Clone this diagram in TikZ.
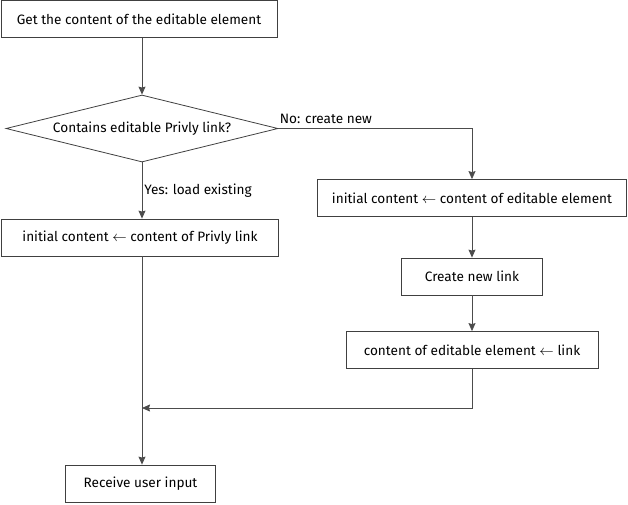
\documentclass[tikz,border=0pt]{standalone}
\usepackage{fontspec}
\setmainfont{Fira Sans}
\usetikzlibrary{shapes.geometric,calc,arrows,arrows.meta}

\begin{document}
\begin{tikzpicture}[x=1pt,y=-1pt, >={Stealth[length=8pt,width=7pt,inset=1pt]},
    every node/.style={font=\fontsize{13.6}{16}\selectfont},
    box/.style={rectangle, draw=black!75, line width=0.8pt, minimum height=37pt, inner sep=0pt},
    choice/.style={diamond, aspect=4.06, draw=black!75, line width=0.8pt, inner sep=0pt, minimum width=272pt, minimum height=67pt},
    line/.style={draw=black!70, line width=0.8pt, ->}]
  \useasboundingbox (0,0) rectangle (628,504);

  \node[box,minimum width=276pt] (get) at (139,19) {Get the content of the editable element};
  \node[choice] (dia) at (142,128.5) {Contains editable Privly link?};
  \node[box,minimum width=277pt] (initold) at (140,237.5) {initial content $\leftarrow$ content of Privly link};
  \node[box,minimum width=309pt] (initnew) at (472,198) {initial content $\leftarrow$ content of editable element};
  \node[box,minimum width=141pt] (create) at (472,276.5) {Create new link};
  \node[box,minimum width=252pt] (setlink) at (472,350) {content of editable element $\leftarrow$ link};
  \node[box,minimum width=150pt] (recv) at (140.5,483.5) {Receive user input};
  \coordinate (merge) at (142,408);

  \draw[line] (dia.north |- get.south) -- (dia.north);
  \draw[line] (dia.east) -| (initnew.north)
    node[pos=0,anchor=south west,inner sep=1pt,yshift=3pt] {No: create new};
  \draw[line] (dia.south) -- (dia.south |- initold.north)
    node[pos=0.5,anchor=west,inner sep=2pt] {Yes: load existing};
  \draw[line] (initnew) -- (create);
  \draw[line] (create) -- (setlink);
  \draw[line] (setlink.south) |- (merge);
  \draw[line] (dia.south |- initold.south) -- (dia.south |- recv.north);
\end{tikzpicture}
\end{document}
